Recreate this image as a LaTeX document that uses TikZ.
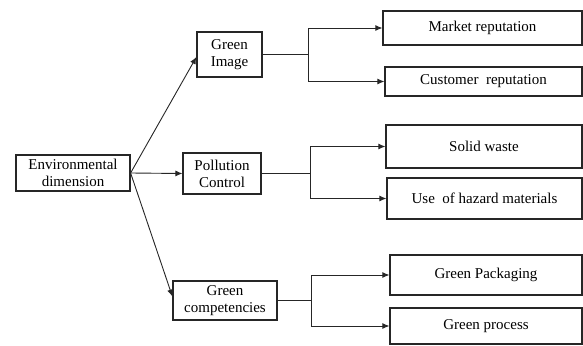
\documentclass[tikz,border=0pt]{standalone}
\usepackage{fontspec}
\setmainfont{Liberation Serif}
\usetikzlibrary{arrows.meta,calc}
\begin{document}
\begin{tikzpicture}[x=1pt,y=-1pt,
  box/.style={draw=black!85,line width=1.2pt,rectangle,inner sep=0pt,align=center,
    text=black,font=\fontsize{15}{17}\selectfont},
  conn/.style={draw=black!85,line width=0.9pt},
  arr/.style={conn,-{Latex[length=7pt,width=6pt]}}]
\useasboundingbox (0,0) rectangle (583,345);
\node[box,minimum width=114pt,minimum height=36pt] (env) at (73,173) {Environmental\\dimension};
\node[box,minimum width=65pt,minimum height=45pt] (gi) at (229.5,54.5) {Green\\Image};
\node[box,minimum width=78pt,minimum height=41pt] (pc) at (222,173.5) {Pollution\\Control};
\node[box,minimum width=104pt,minimum height=39pt] (gc) at (225,300.5) {Green\\competencies};
\node[box,minimum width=199pt,minimum height=34pt] (mr) at (482.5,28) {Market reputation};
\node[box,minimum width=197pt,minimum height=29pt] (cr) at (483.5,81.5) {Customer\ \ reputation};
\node[box,minimum width=196pt,minimum height=43pt] (sw) at (484,146.5) {Solid waste};
\node[box,minimum width=195pt,minimum height=41pt] (uh) at (484.5,198.5) {Use\ \ of hazard materials};
\node[box,minimum width=192pt,minimum height=40pt] (gp) at (486,275) {Green Packaging};
\node[box,minimum width=192pt,minimum height=36pt] (gpr) at (486,326) {Green process};
\coordinate (b1) at (308,54.5);
\coordinate (b2) at (310,173.5);
\coordinate (b3) at (311,300.5);
\draw[arr] (env.east) -- ($(gi.west)+(0,2.5)$);
\draw[arr] (env.east) -- (pc.west);
\draw[arr] (env.east) -- ($(gc.west)+(0,-4)$);
\draw[conn] (gi.east) -- (b1);
\draw[arr] (b1) |- (mr.west);
\draw[arr] (b1) |- (cr.west);
\draw[conn] (pc.east) -- (b2);
\draw[arr] (b2) |- (sw.west);
\draw[arr] (b2) |- (uh.west);
\draw[conn] (gc.east) -- (b3);
\draw[arr] (b3) |- (gp.west);
\draw[arr] (b3) |- (gpr.west);
\end{tikzpicture}
\end{document}
